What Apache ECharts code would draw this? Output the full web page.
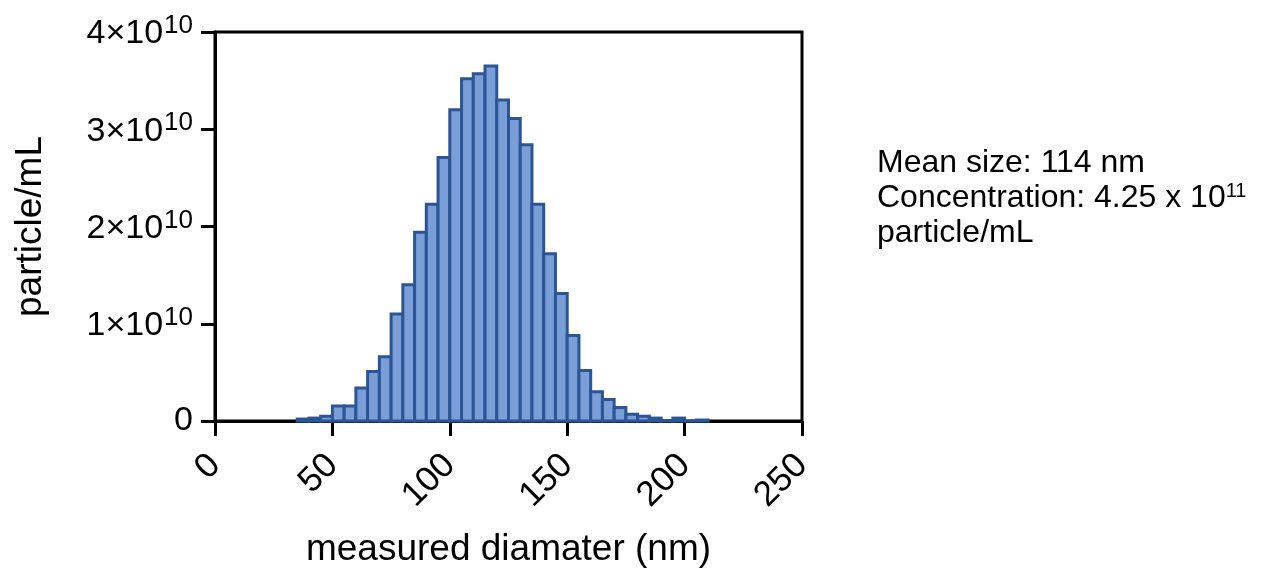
<!DOCTYPE html>
<html>
<head>
<meta charset="utf-8">
<script src="https://cdn.jsdelivr.net/npm/echarts@6/dist/echarts.min.js"></script>
<style>
  html, body { margin: 0; padding: 0; background: #fff; }
  #chart { width: 1262px; height: 573px; }
</style>
</head>
<body>
<div id="chart"></div>
<script>
// histogram bins (nm, left edge) and heights (particle/mL)
var binWidth = 5;
var binStart = [35, 40, 45, 50, 55, 60, 65, 70, 75, 80, 85, 90, 95, 100, 105, 110, 115, 120,
    125, 130, 135, 140, 145, 150, 155, 160, 165, 170, 175, 180, 185, 190, 195, 200, 205];
var particles = [0.02e10, 0.03e10, 0.05e10, 0.155e10, 0.155e10, 0.34e10, 0.51e10, 0.66e10,
    1.10e10, 1.40e10, 1.94e10, 2.23e10, 2.71e10, 3.20e10, 3.52e10, 3.57e10, 3.65e10, 3.30e10,
    3.11e10, 2.84e10, 2.23e10, 1.72e10, 1.31e10, 0.88e10, 0.52e10, 0.30e10, 0.22e10, 0.14e10,
    0.07e10, 0.05e10, 0.03e10, 0.005e10, 0.03e10, 0, 0.01e10];
var xTicks = [0, 50, 100, 150, 200, 250];
var yTicks = [0, 1e10, 2e10, 3e10, 4e10];

var font = 'Liberation Sans, Arial, sans-serif';
var chart = echarts.init(document.getElementById('chart'));

var histData = binStart.map(function(s, i) { return [s, particles[i]]; });

chart.setOption({
    animation: false,
    grid: {
        left: 215, right: 460, top: 32, bottom: 152,
        show: true, borderColor: '#000', borderWidth: 3, backgroundColor: 'transparent'
    },
    xAxis: {
        type: 'value',
        min: xTicks[0], max: xTicks[xTicks.length - 1], interval: 50,
        name: 'measured diamater (nm)',
        nameLocation: 'middle', nameGap: 110,
        nameTextStyle: { fontFamily: font, fontSize: 37, color: '#000' },
        axisLine: { lineStyle: { color: '#000', width: 3 } },
        axisTick: { length: 15, lineStyle: { color: '#000', width: 3 } },
        axisLabel: { rotate: 45, margin: 39, fontFamily: font, fontSize: 35, color: '#000' },
        splitLine: { show: false }
    },
    yAxis: {
        type: 'value',
        min: yTicks[0], max: yTicks[yTicks.length - 1], interval: 1e10,
        name: 'particle/mL',
        nameLocation: 'middle', nameGap: 166,
        nameTextStyle: { fontFamily: font, fontSize: 37, color: '#000' },
        axisLine: { show: true, lineStyle: { color: '#000', width: 3 } },
        axisTick: { show: true, length: 14, lineStyle: { color: '#000', width: 3 } },
        axisLabel: {
            margin: 22,
            fontFamily: font, fontSize: 34, color: '#000',
            formatter: function(v) {
                if (v === 0) return '0';
                return '{m|' + (v / 1e10) + '×10}{s|10}';
            },
            rich: {
                m: { fontFamily: font, fontSize: 34, color: '#000', verticalAlign: 'bottom', lineHeight: 38 },
                s: { fontFamily: font, fontSize: 26, color: '#000', verticalAlign: 'top', lineHeight: 38, padding: [0, 0, 14, 1] }
            }
        },
        splitLine: { show: false }
    },
    series: [{
        type: 'custom',
        data: histData,
        encode: { x: 0, y: 1 },
        renderItem: function(params, api) {
            var x0 = api.value(0);
            var p0 = api.coord([x0, api.value(1)]);
            var p1 = api.coord([x0 + binWidth, 0]);
            return {
                type: 'rect',
                shape: { x: p0[0], y: p0[1], width: p1[0] - p0[0], height: p1[1] - p0[1] },
                style: { fill: '#7a9fd8', stroke: '#2c5596', lineWidth: 3 }
            };
        }
    }],
    graphic: [{
        type: 'text',
        left: 877, top: 146,
        style: {
            text: 'Mean size: 114 nm\nConcentration: 4.25 x 10{s|11}\nparticle/mL',
            fontFamily: font, fontSize: 32, lineHeight: 35, fill: '#000',
            rich: {
                s: { fontFamily: font, fontSize: 20, verticalAlign: 'top', lineHeight: 35, padding: [0, 0, 12, 0], fill: '#000' }
            }
        }
    }]
});
</script>
</body>
</html>
